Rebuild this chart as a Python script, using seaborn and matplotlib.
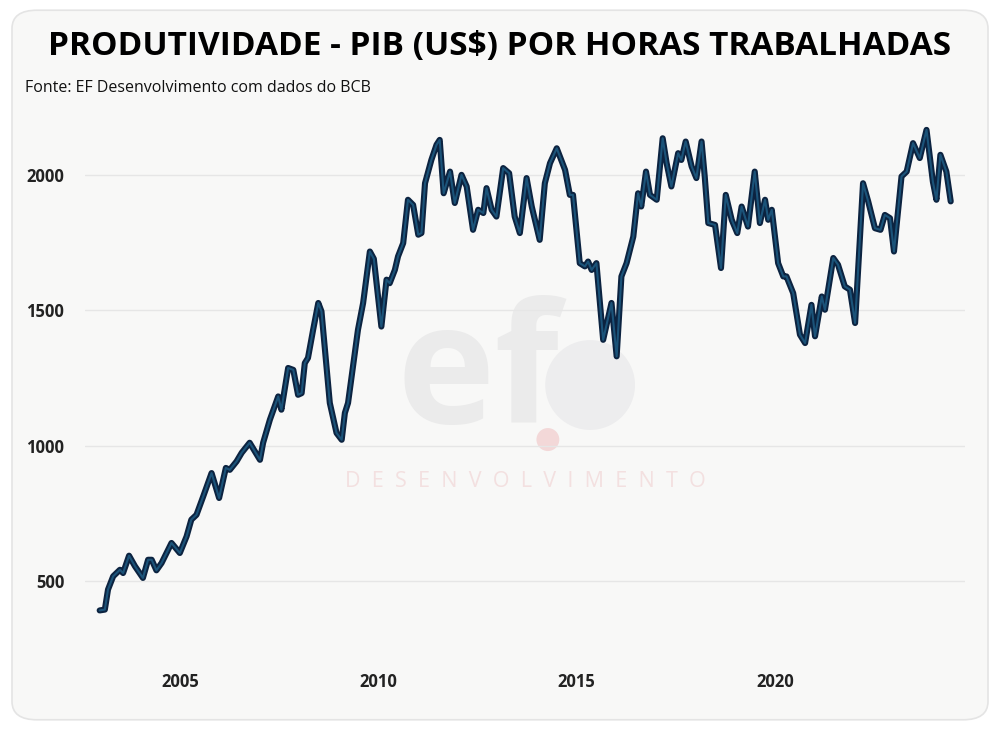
'''produtividade - pib por horas trabalhadas'''
import pandas as pd
import seaborn as sns
import matplotlib
matplotlib.use("Agg")
import matplotlib.pyplot as plt
from matplotlib.patches import FancyBboxPatch, Ellipse

# data (decimal year, US$ per hour worked)
anos = [2002.98, 2003.11, 2003.19, 2003.32, 2003.49, 2003.57, 2003.72, 2003.87,
        2004.07, 2004.20, 2004.29, 2004.41, 2004.54, 2004.79, 2005.00, 2005.17,
        2005.29, 2005.42, 2005.59, 2005.80, 2005.99, 2006.16, 2006.26, 2006.43,
        2006.56, 2006.76, 2007.02, 2007.10, 2007.27, 2007.48, 2007.56, 2007.73,
        2007.86, 2007.98, 2008.07, 2008.15, 2008.23, 2008.36, 2008.49, 2008.57,
        2008.78, 2008.95, 2009.08, 2009.16, 2009.24, 2009.49, 2009.62, 2009.79,
        2009.89, 2010.08, 2010.21, 2010.29, 2010.42, 2010.50, 2010.63, 2010.75,
        2010.88, 2011.01, 2011.09, 2011.18, 2011.34, 2011.47, 2011.55, 2011.65,
        2011.81, 2011.93, 2012.10, 2012.23, 2012.39, 2012.52, 2012.65, 2012.73,
        2012.86, 2012.98, 2013.15, 2013.30, 2013.44, 2013.57, 2013.74, 2013.87,
        2014.07, 2014.20, 2014.33, 2014.50, 2014.71, 2014.83, 2014.91, 2015.08,
        2015.21, 2015.29, 2015.38, 2015.50, 2015.67, 2015.88, 2016.01, 2016.13,
        2016.26, 2016.43, 2016.55, 2016.63, 2016.75, 2016.85, 2017.02, 2017.17,
        2017.27, 2017.39, 2017.56, 2017.64, 2017.75, 2017.90, 2018.02, 2018.15,
        2018.23, 2018.32, 2018.49, 2018.64, 2018.76, 2018.91, 2019.05, 2019.16,
        2019.32, 2019.49, 2019.62, 2019.75, 2019.83, 2019.92, 2020.08, 2020.21,
        2020.29, 2020.46, 2020.55, 2020.63, 2020.76, 2020.92, 2021.01, 2021.18,
        2021.26, 2021.47, 2021.59, 2021.76, 2021.89, 2022.02, 2022.22, 2022.35,
        2022.52, 2022.66, 2022.77, 2022.90, 2023.00, 2023.11, 2023.19, 2023.32,
        2023.48, 2023.65, 2023.82, 2023.98, 2024.07, 2024.17, 2024.32, 2024.43]
pib_hora = [392, 395, 469, 518, 542, 530, 594, 555,
            512, 579, 579, 540, 567, 641, 604, 665,
            727, 745, 813, 899, 807, 918, 911, 942,
            974, 1011, 948, 1011, 1096, 1182, 1133, 1287,
            1280, 1188, 1194, 1305, 1324, 1428, 1527, 1496,
            1158, 1047, 1022, 1121, 1158, 1428, 1527, 1717,
            1690, 1440, 1613, 1600, 1649, 1699, 1748, 1908,
            1889, 1779, 1785, 1969, 2055, 2111, 2129, 1932,
            2012, 1896, 2000, 1957, 1797, 1871, 1859, 1951,
            1871, 1846, 2025, 2006, 1846, 1785, 1988, 1883,
            1760, 1969, 2043, 2098, 2018, 1926, 1926, 1674,
            1662, 1680, 1649, 1674, 1391, 1527, 1330, 1625,
            1674, 1772, 1932, 1883, 2012, 1926, 1908, 2135,
            2043, 1957, 2080, 2055, 2123, 2031, 1988, 2123,
            1994, 1822, 1815, 1656, 1926, 1834, 1785, 1883,
            1809, 2012, 1822, 1908, 1834, 1871, 1674, 1625,
            1625, 1563, 1483, 1410, 1379, 1520, 1404, 1551,
            1502, 1693, 1668, 1588, 1576, 1453, 1969, 1902,
            1803, 1797, 1852, 1840, 1717, 1877, 1994, 2012,
            2117, 2062, 2166, 1975, 1908, 2074, 2012, 1902]
y_ticks = [500, 1000, 1500, 2000]
x_ticks = [2005, 2010, 2015, 2020]

df = pd.DataFrame({'ano': anos, 'valor': pib_hora})

sns.set_style("white")
plt.rcParams['font.family'] = ['Open Sans', 'DejaVu Sans']

fig = plt.figure(figsize=(10, 7.3), dpi=100)
fig.patch.set_facecolor('white')
# rounded card behind everything
card = FancyBboxPatch((0.012, 0.014), 0.976, 0.972, transform=fig.transFigure,
                      boxstyle="round,pad=0,rounding_size=0.025",
                      facecolor='#f8f8f7', edgecolor='#e4e4e4', linewidth=1.2,
                      zorder=-10)
fig.patches.append(card)

ax = fig.add_axes([0.085, 0.11, 0.88, 0.7325])
ax.set_facecolor('none')

# watermark (axes is 880 x 535 px, so ellipses below come out round)
ax.text(0.447, 0.505, 'ef', transform=ax.transAxes, fontsize=120, fontweight='bold',
        color='#ebebeb', ha='center', va='center', zorder=0)
ax.add_patch(Ellipse((0.574, 0.495), 0.102, 0.168, transform=ax.transAxes,
                     facecolor='#ededee', edgecolor='none', zorder=0))
ax.add_patch(Ellipse((0.526, 0.393), 0.026, 0.043, transform=ax.transAxes,
                     facecolor='#f3d8d8', edgecolor='none', zorder=0))
ax.text(0.5, 0.314, 'D  E  S  E  N  V  O  L  V  I  M  E  N  T  O', transform=ax.transAxes,
        fontsize=15.5, color='#f3e0e0', ha='center', va='center', zorder=0)

sns.lineplot(data=df, x='ano', y='valor', ax=ax, color='#0c2340', linewidth=4.4,
             zorder=3)
sns.lineplot(data=df, x='ano', y='valor', ax=ax, color='#1f6088', linewidth=1.5,
             alpha=0.8, zorder=4)

ax.set_xlim(2002.61, 2024.79)
ax.set_ylim(247, 2221)
ax.set_xticks(x_ticks)
ax.set_yticks(y_ticks)
ax.set_xticklabels([str(t) for t in x_ticks], fontsize=12, fontweight='bold',
                   color='#222222')
ax.set_yticklabels([str(t) for t in y_ticks], fontsize=12, fontweight='bold',
                   color='#222222')
ax.tick_params(axis='x', length=0, pad=17)
ax.tick_params(axis='y', length=0, pad=15)
ax.grid(axis='y', color='#e6e6e6', linewidth=1)
ax.set_axisbelow(True)
sns.despine(ax=ax, left=True, bottom=True)
ax.set_xlabel('')
ax.set_ylabel('')

fig.text(0.5, 0.936, 'PRODUTIVIDADE - PIB (US$) POR HORAS TRABALHADAS',
         ha='center', va='center', fontsize=24, fontweight='bold', color='black')
fig.text(0.025, 0.88, 'Fonte: EF Desenvolvimento com dados do BCB',
         ha='left', va='center', fontsize=11.5, color='#111111')

fig.savefig('out.png', dpi=100)
